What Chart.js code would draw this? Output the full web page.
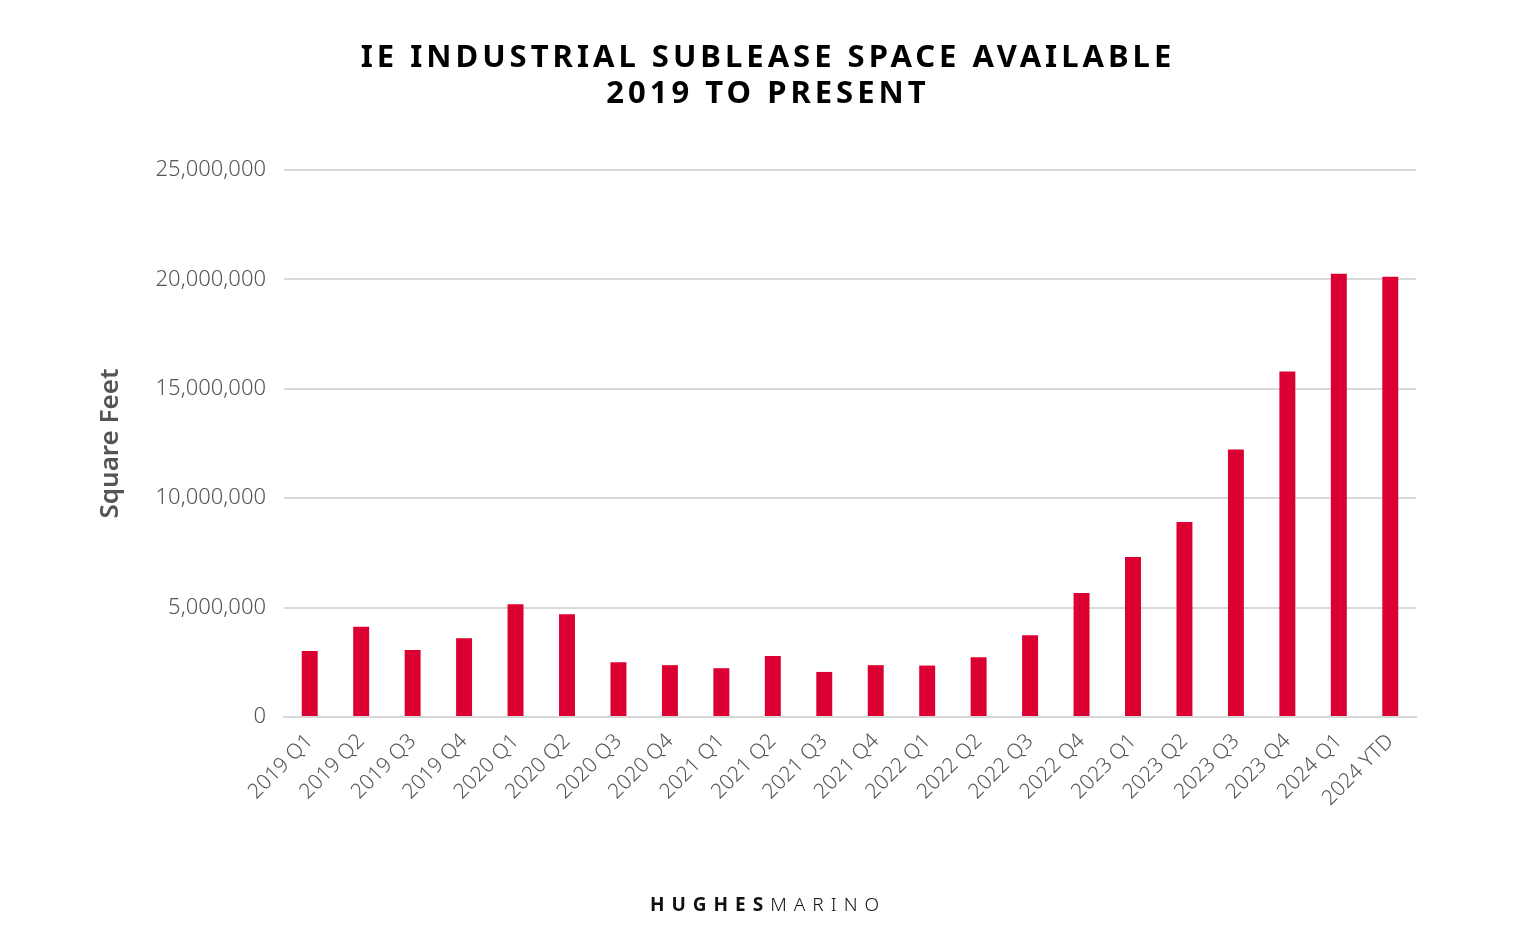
<!DOCTYPE html>
<html>
<head>
<meta charset="utf-8">
<script src="https://cdn.jsdelivr.net/npm/chart.js@4/dist/chart.umd.min.js"></script>
<style>
  html, body { margin: 0; padding: 0; background: #fff; }
  #wrap { position: relative; width: 1536px; height: 951px; }
  #chart { position: absolute; left: 0; top: 0; }
  .title {
    position: absolute; left: 0; width: 1536px; text-align: center;
    font-family: "Noto Sans", sans-serif; font-weight: 700; font-size: 31px;
    letter-spacing: 4px; color: #000; line-height: 36px;
  }
  .logo {
    position: absolute; left: 0; width: 1536px; top: 891px; text-align: center;
    font-family: "Noto Sans", sans-serif; font-size: 19px; letter-spacing: 7px; color: #111;
  }
  .logo b { font-weight: 700; }
  .logo span { font-weight: 300; }
</style>
</head>
<body>
<div id="wrap">
  <canvas id="chart" width="1536" height="951"></canvas>
  <div class="title" style="top:37px">IE INDUSTRIAL SUBLEASE SPACE AVAILABLE<br>2019 TO PRESENT</div>
  <div class="logo"><b>HUGHES</b><span>MARINO</span></div>
</div>
<script>
// 季度标签
var quarters = ['2019 Q1','2019 Q2','2019 Q3','2019 Q4','2020 Q1','2020 Q2','2020 Q3','2020 Q4',
    '2021 Q1','2021 Q2','2021 Q3','2021 Q4','2022 Q1','2022 Q2','2022 Q3','2022 Q4',
    '2023 Q1','2023 Q2','2023 Q3','2023 Q4','2024 Q1','2024 YTD'];
// 转租面积 (sq ft)
var subleaseSF = [3020000, 4120000, 3060000, 3600000, 5150000, 4700000, 2500000, 2370000,
    2230000, 2790000, 2060000, 2370000, 2350000, 2730000, 3740000, 5670000,
    7310000, 8910000, 12230000, 15790000, 20260000, 20120000];
// y轴刻度
var yTicks = [0, 5000000, 10000000, 15000000, 20000000, 25000000];

var ctx = document.getElementById('chart').getContext('2d');
var myChart = new Chart(ctx, {
    type: 'bar',
    data: {
        labels: quarters,
        datasets: [{
            data: subleaseSF,
            backgroundColor: '#DC0032',
            barPercentage: 0.62,
            categoryPercentage: 0.5
        }]
    },
    options: {
        responsive: false,
        animation: false,
        layout: { padding: { left: 95, right: 120, top: 170, bottom: 0 } },
        plugins: { legend: { display: false }, tooltip: { enabled: false } },
        scales: {
            x: {
                grid: { display: false },
                border: { color: '#d9d9d9', width: 2 },
                ticks: {
                    color: '#555', maxRotation: 45, minRotation: 45, padding: 4,
                    font: { family: '"Noto Sans", sans-serif', size: 21, weight: '300' }
                },
                afterFit: function (s) { s.height = 234; }
            },
            y: {
                min: 0, max: 25000000,
                afterBuildTicks: function (s) { s.ticks = yTicks.map(function (v) { return { value: v }; }); },
                grid: { color: '#d9d9d9', lineWidth: 2, drawTicks: false },
                border: { display: false },
                ticks: {
                    color: '#555', padding: 18,
                    font: { family: '"Noto Sans", sans-serif', size: 22, weight: '300' },
                    callback: function (v) { return v.toLocaleString('en-US'); }
                },
                title: {
                    display: true, text: 'Square Feet', color: '#555',
                    font: { family: '"Noto Sans", sans-serif', size: 26, weight: '600' },
                    padding: { top: 0, bottom: 0 }
                },
                afterFit: function (s) { s.width = 189; }
            }
        }
    }
});
</script>
</body>
</html>
